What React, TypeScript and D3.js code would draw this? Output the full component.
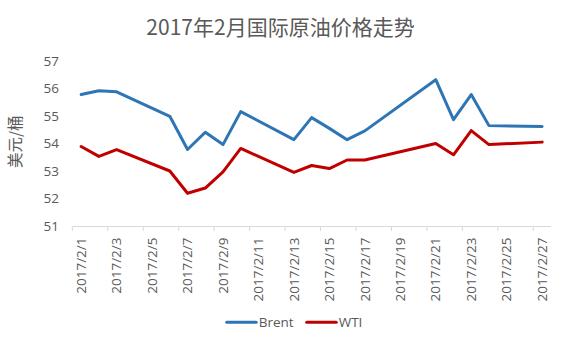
import React from "react";
import * as d3 from "d3";

const title = "2017年2月国际原油价格走势";
const yTitle = "美元/桶";
const days = [1, 2, 3, 6, 7, 8, 9, 10, 13, 14, 15, 16, 17, 21, 22, 23, 24, 27];
const brent = [55.78, 55.92, 55.88, 54.99, 53.78, 54.41, 53.96, 55.16, 54.14, 54.94, 54.55, 54.14, 54.46, 56.32, 54.87, 55.78, 54.65, 54.62];
const wti = [53.89, 53.53, 53.78, 53.0, 52.19, 52.38, 52.97, 53.82, 52.95, 53.2, 53.09, 53.4, 53.4, 54.0, 53.59, 54.47, 53.96, 54.05];
const allDays = d3.range(1, 28);
const tickDays = allDays.filter((d) => d % 2 === 1);
const yTicks = [51, 52, 53, 54, 55, 56, 57];
const series = [
  { name: "Brent", values: brent, color: "#2E75B6" },
  { name: "WTI", values: wti, color: "#C00000" },
];

export default function App() {
  const W = 561, H = 338;
  const x = d3.scaleBand<number>().domain(allDays).range([72.3, 551]).padding(0);
  const bw = x.bandwidth();
  const cx = (d: number) => (x(d) as number) + bw / 2;
  const y = d3.scaleLinear().domain([51, 57]).range([226, 61]);
  const line = d3
    .line<number>()
    .x((_, i) => cx(days[i]))
    .y((v) => y(v));
  const font = "'Open Sans', sans-serif";
  const gray = "#595959";
  return (
    <svg width={W} height={H} style={{ position: "absolute", left: 0, top: 0 }}>
      <rect width={W} height={H} fill="#fff" />
      <text x={280.5} y={34.5} textAnchor="middle" fontFamily="'Noto Sans CJK SC', sans-serif" fontSize={21} fill={gray}>
        {title}
      </text>
      <text
        transform={`translate(21,141.7) rotate(-90)`}
        textAnchor="middle"
        fontFamily="'Noto Sans CJK SC', sans-serif"
        fontSize={15.5}
        fill={gray}
      >
        {yTitle}
      </text>
      {yTicks.map((t) => (
        <text key={t} x={59} y={y(t)} dy="0.35em" textAnchor="end" fontFamily={font} fontSize={13.5} fill={gray}>
          {t}
        </text>
      ))}
      <line x1={72.3} x2={551} y1={226.5} y2={226.5} stroke="#D9D9D9" strokeWidth={1} />
      {tickDays.map((d) => (
        <line key={"t" + d} x1={(x(d) as number)} x2={(x(d) as number)} y1={226.5} y2={231} stroke="#D9D9D9" />
      ))}
      {tickDays.map((d) => (
        <text
          key={"l" + d}
          transform={`translate(${cx(d)},237.5) rotate(-90)`}
          textAnchor="end"
          dy="0.35em"
          fontFamily={font}
          fontSize={13.5}
          fill={gray}
        >
          {`2017/2/${d}`}
        </text>
      ))}
      {series.map((s) => (
        <path key={s.name} d={line(s.values) || ""} fill="none" stroke={s.color} strokeWidth={3} strokeLinejoin="round" strokeLinecap="round" />
      ))}
      {series.map((s, i) => {
        const lx = i === 0 ? 226.7 : 306.7;
        return (
          <g key={"lg" + s.name}>
            <line x1={lx} x2={lx + 29.5} y1={322.3} y2={322.3} stroke={s.color} strokeWidth={3} strokeLinecap="round" />
            <text x={lx + 32} y={322.3} dy="0.35em" fontFamily={font} fontSize={13.5} fill={gray}>
              {s.name}
            </text>
          </g>
        );
      })}
    </svg>
  );
}
